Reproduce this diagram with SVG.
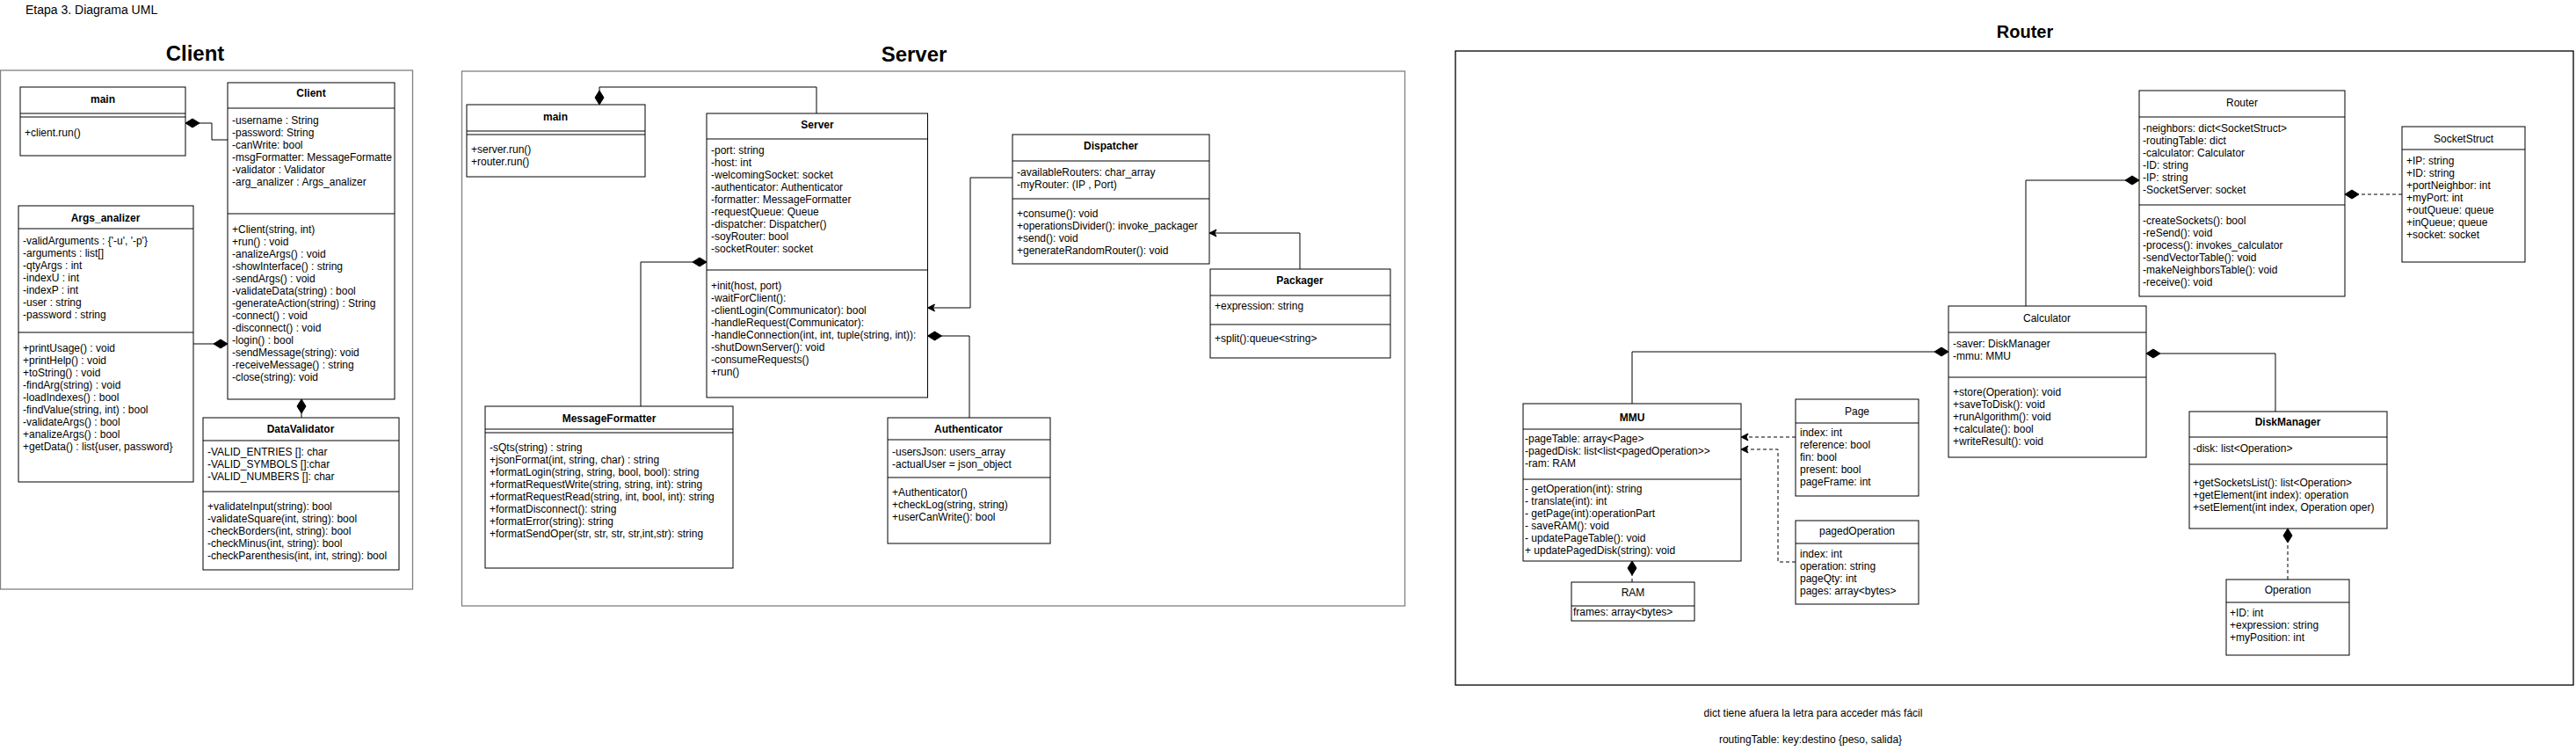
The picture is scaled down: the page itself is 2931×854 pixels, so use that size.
<svg xmlns="http://www.w3.org/2000/svg" width="2931" height="854" viewBox="0 0 2931 854">
<style>
text{font-family:"Liberation Sans",Arial,Helvetica,sans-serif;font-size:12px;fill:#000}
.h{font-weight:bold;text-anchor:middle}
.r{text-anchor:middle}
.big{font-size:24px;font-weight:bold;text-anchor:middle}
.box{fill:#fff;stroke:#000;stroke-width:1}
.ln{stroke:#000;stroke-width:1;fill:none}
.panel{fill:none;stroke:#808080;stroke-width:1.3}
.panelk{fill:none;stroke:#000;stroke-width:1.3}
.c{fill:none;stroke:#000;stroke-width:1}
.d{stroke-dasharray:4 3}
</style>
<defs>
<marker id="dia" markerUnits="userSpaceOnUse" markerWidth="17" markerHeight="11" refX="16" refY="5" orient="auto" overflow="visible">
<path d="M0,5 L8,0 L16,5 L8,10 Z" fill="#000" stroke="#000" stroke-width="1" stroke-dasharray="none"/>
</marker>
<marker id="arr" markerUnits="userSpaceOnUse" markerWidth="9" markerHeight="9" refX="8" refY="4" orient="auto" overflow="visible">
<path d="M0,0 L8,4 L0,8 L2,4 Z" fill="#000" stroke="#000" stroke-width="1" stroke-dasharray="none"/>
</marker>
</defs>
<rect width="2931" height="854" fill="#fff"/>
<text x="29" y="16" style="font-size:14px">Etapa 3. Diagrama UML</text>

<!-- CLIENT PANEL -->
<g id="client-panel">
<text class="big" x="222" y="69">Client</text>
<rect class="panel" x="0.5" y="80" width="469" height="590"/>
</g>
<g id="client-main">
<rect class="box" x="23" y="99" width="188" height="78"/>
<line class="ln" x1="23" y1="129" x2="211" y2="129"/>
<line class="ln" x1="23" y1="133" x2="211" y2="133"/>
<text class="h" x="117" y="117">main</text>
<text x="28" y="155">+client.run()</text>
</g>
<g id="client-class">
<rect class="box" x="259" y="94" width="190" height="360"/>
<line class="ln" x1="259" y1="123" x2="449" y2="123"/>
<line class="ln" x1="259" y1="243" x2="449" y2="243"/>
<text class="h" x="354" y="110">Client</text>
<text x="264" y="141">-username : String</text>
<text x="264" y="155">-password: String</text>
<text x="264" y="169">-canWrite: bool</text>
<text x="264" y="183">-msgFormatter: MessageFormatte</text>
<text x="264" y="197">-validator : Validator</text>
<text x="264" y="211">-arg_analizer : Args_analizer</text>
<text x="264" y="265">+Client(string, int)</text>
<text x="264" y="279">+run() : void</text>
<text x="264" y="293">-analizeArgs() : void</text>
<text x="264" y="307">-showInterface() : string</text>
<text x="264" y="321">-sendArgs() : void</text>
<text x="264" y="335">-validateData(string) : bool</text>
<text x="264" y="349">-generateAction(string) : String</text>
<text x="264" y="363">-connect() : void</text>
<text x="264" y="377">-disconnect() : void</text>
<text x="264" y="391">-login() : bool</text>
<text x="264" y="405">-sendMessage(string): void</text>
<text x="264" y="419">-receiveMessage() : string</text>
<text x="264" y="433">-close(string): void</text>
</g>
<g id="args-analizer">
<rect class="box" x="21" y="234" width="199" height="314"/>
<line class="ln" x1="21" y1="260" x2="220" y2="260"/>
<line class="ln" x1="21" y1="378" x2="220" y2="378"/>
<text class="h" x="120" y="252">Args_analizer</text>
<text x="26" y="278">-validArguments : {'-u', '-p'}</text>
<text x="26" y="292">-arguments : list[]</text>
<text x="26" y="306">-qtyArgs : int</text>
<text x="26" y="320">-indexU : int</text>
<text x="26" y="334">-indexP : int</text>
<text x="26" y="348">-user : string</text>
<text x="26" y="362">-password : string</text>
<text x="26" y="400">+printUsage() : void</text>
<text x="26" y="414">+printHelp() : void</text>
<text x="26" y="428">+toString() : void</text>
<text x="26" y="442">-findArg(string) : void</text>
<text x="26" y="456">-loadIndexes() : bool</text>
<text x="26" y="470">-findValue(string,  int) : bool</text>
<text x="26" y="484">-validateArgs() : bool</text>
<text x="26" y="498">+analizeArgs() : bool</text>
<text x="26" y="512">+getData() : list{user, password}</text>
</g>
<g id="data-validator">
<rect class="box" x="231" y="475" width="223" height="173"/>
<line class="ln" x1="231" y1="501" x2="454" y2="501"/>
<line class="ln" x1="231" y1="559" x2="454" y2="559"/>
<text class="h" x="342" y="492">DataValidator</text>
<text x="236" y="518">-VALID_ENTRIES []: char</text>
<text x="236" y="532">-VALID_SYMBOLS []:char</text>
<text x="236" y="546">-VALID_NUMBERS []: char</text>
<text x="236" y="580">+validateInput(string): bool</text>
<text x="236" y="594">-validateSquare(int, string): bool</text>
<text x="236" y="608">-checkBorders(int, string): bool</text>
<text x="236" y="622">-checkMinus(int, string): bool</text>
<text x="236" y="636">-checkParenthesis(int, int, string): bool</text>
</g>

<!-- SERVER PANEL -->
<g id="server-panel">
<text class="big" x="1040" y="70">Server</text>
<rect class="panel" x="525.5" y="81" width="1073" height="608"/>
</g>
<g id="server-main">
<rect class="box" x="531" y="119" width="203" height="82"/>
<line class="ln" x1="531" y1="149" x2="734" y2="149"/>
<line class="ln" x1="531" y1="153" x2="734" y2="153"/>
<text class="h" x="632" y="137">main</text>
<text x="536" y="174">+server.run()</text>
<text x="536" y="188">+router.run()</text>
</g>
<g id="server-class">
<rect class="box" x="804" y="129" width="251.5" height="323"/>
<line class="ln" x1="804" y1="158" x2="1055.5" y2="158"/>
<line class="ln" x1="804" y1="307" x2="1055.5" y2="307"/>
<text class="h" x="930" y="146">Server</text>
<text x="809" y="175">-port: string</text>
<text x="809" y="189">-host: int</text>
<text x="809" y="203">-welcomingSocket: socket</text>
<text x="809" y="217">-authenticator: Authenticator</text>
<text x="809" y="231">-formatter: MessageFormatter</text>
<text x="809" y="245">-requestQueue: Queue</text>
<text x="809" y="259">-dispatcher: Dispatcher()</text>
<text x="809" y="273">-soyRouter: bool</text>
<text x="809" y="287">-socketRouter: socket</text>
<text x="809" y="329">+init(host, port)</text>
<text x="809" y="343">-waitForClient():</text>
<text x="809" y="357">-clientLogin(Communicator): bool</text>
<text x="809" y="371">-handleRequest(Communicator):</text>
<text x="809" y="385">-handleConnection(int, int, tuple(string, int)):</text>
<text x="809" y="399">-shutDownServer(): void</text>
<text x="809" y="413">-consumeRequests()</text>
<text x="809" y="427">+run()</text>
</g>
<g id="dispatcher">
<rect class="box" x="1152" y="153" width="224" height="147"/>
<line class="ln" x1="1152" y1="183" x2="1376" y2="183"/>
<line class="ln" x1="1152" y1="226" x2="1376" y2="226"/>
<text class="h" x="1264" y="170">Dispatcher</text>
<text x="1157" y="200">-availableRouters: char_array</text>
<text x="1157" y="214">-myRouter: (IP , Port)</text>
<text x="1157" y="247">+consume(): void</text>
<text x="1157" y="261">+operationsDivider(): invoke_packager</text>
<text x="1157" y="275">+send(): void</text>
<text x="1157" y="289">+generateRandomRouter(): void</text>
</g>
<g id="packager">
<rect class="box" x="1377" y="306" width="205" height="101"/>
<line class="ln" x1="1377" y1="336" x2="1582" y2="336"/>
<line class="ln" x1="1377" y1="369" x2="1582" y2="369"/>
<text class="h" x="1479" y="323">Packager</text>
<text x="1382" y="352">+expression: string</text>
<text x="1382" y="389">+split():queue&lt;string&gt;</text>
</g>
<g id="message-formatter">
<rect class="box" x="552" y="462" width="282" height="184"/>
<line class="ln" x1="552" y1="488" x2="834" y2="488"/>
<line class="ln" x1="552" y1="492" x2="834" y2="492"/>
<text class="h" x="693" y="480">MessageFormatter</text>
<text x="557" y="513">-sQts(string) : string</text>
<text x="557" y="527">+jsonFormat(int, string, char) : string</text>
<text x="557" y="541">+formatLogin(string, string, bool, bool): string</text>
<text x="557" y="555">+formatRequestWrite(string, string, int): string</text>
<text x="557" y="569">+formatRequestRead(string, int, bool, int): string</text>
<text x="557" y="583">+formatDisconnect(): string</text>
<text x="557" y="597">+formatError(string): string</text>
<text x="557" y="611">+formatSendOper(str, str, str, str,int,str): string</text>
</g>
<g id="authenticator">
<rect class="box" x="1010" y="475" width="185" height="143"/>
<line class="ln" x1="1010" y1="500" x2="1195" y2="500"/>
<line class="ln" x1="1010" y1="543" x2="1195" y2="543"/>
<text class="h" x="1102" y="492">Authenticator</text>
<text x="1015" y="518">-usersJson: users_array</text>
<text x="1015" y="532">-actualUser = json_object</text>
<text x="1015" y="564">+Authenticator()</text>
<text x="1015" y="578">+checkLog(string, string)</text>
<text x="1015" y="592">+userCanWrite(): bool</text>
</g>

<!-- ROUTER PANEL -->
<g id="router-panel">
<text class="r" x="2304" y="43" style="font-size:20px;font-weight:bold">Router</text>
<rect class="panelk" x="1656" y="58" width="1272" height="721"/>
</g>
<g id="router-class">
<rect class="box" x="2434" y="103" width="234" height="234"/>
<line class="ln" x1="2434" y1="133" x2="2668" y2="133"/>
<line class="ln" x1="2434" y1="233" x2="2668" y2="233"/>
<text class="r" x="2551" y="121">Router</text>
<text x="2438" y="150">-neighbors: dict&lt;SocketStruct&gt;</text>
<text x="2438" y="164">-routingTable: dict</text>
<text x="2438" y="178">-calculator: Calculator</text>
<text x="2438" y="192">-ID: string</text>
<text x="2438" y="206">-IP: string</text>
<text x="2438" y="220">-SocketServer: socket</text>
<text x="2438" y="255">-createSockets(): bool</text>
<text x="2438" y="269">-reSend(): void</text>
<text x="2438" y="283">-process(): invokes_calculator</text>
<text x="2438" y="297">-sendVectorTable(): void</text>
<text x="2438" y="311">-makeNeighborsTable(): void</text>
<text x="2438" y="325">-receive(): void</text>
</g>
<g id="socket-struct">
<rect class="box" x="2733" y="144" width="140" height="154"/>
<line class="ln" x1="2733" y1="170" x2="2873" y2="170"/>
<text class="r" x="2803" y="162">SocketStruct</text>
<text x="2738" y="187">+IP: string</text>
<text x="2738" y="201">+ID: string</text>
<text x="2738" y="215">+portNeighbor: int</text>
<text x="2738" y="229">+myPort: int</text>
<text x="2738" y="243">+outQueue: queue</text>
<text x="2738" y="257">+inQueue; queue</text>
<text x="2738" y="271">+socket: socket</text>
</g>
<g id="calculator">
<rect class="box" x="2217" y="348" width="225" height="172"/>
<line class="ln" x1="2217" y1="378" x2="2442" y2="378"/>
<line class="ln" x1="2217" y1="429" x2="2442" y2="429"/>
<text class="r" x="2329" y="366">Calculator</text>
<text x="2222" y="395">-saver: DiskManager</text>
<text x="2222" y="409">-mmu: MMU</text>
<text x="2222" y="450">+store(Operation): void</text>
<text x="2222" y="464">+saveToDisk(): void</text>
<text x="2222" y="478">+runAlgorithm(): void</text>
<text x="2222" y="492">+calculate(): bool</text>
<text x="2222" y="506">+writeResult(): void</text>
</g>
<g id="disk-manager">
<rect class="box" x="2491" y="468" width="225" height="133"/>
<line class="ln" x1="2491" y1="497" x2="2716" y2="497"/>
<line class="ln" x1="2491" y1="528" x2="2716" y2="528"/>
<text class="h" x="2603" y="484">DiskManager</text>
<text x="2495" y="514">-disk: list&lt;Operation&gt;</text>
<text x="2495" y="553">+getSocketsList(): list&lt;Operation&gt;</text>
<text x="2495" y="567">+getElement(int index): operation</text>
<text x="2495" y="581">+setElement(int index, Operation oper)</text>
</g>
<g id="operation">
<rect class="box" x="2533" y="659" width="140" height="86"/>
<line class="ln" x1="2533" y1="685" x2="2673" y2="685"/>
<text class="r" x="2603" y="675">Operation</text>
<text x="2537" y="701">+ID: int</text>
<text x="2537" y="715">+expression: string</text>
<text x="2537" y="729">+myPosition: int</text>
</g>
<g id="mmu">
<rect class="box" x="1733" y="459" width="248" height="179"/>
<line class="ln" x1="1733" y1="488" x2="1981" y2="488"/>
<line class="ln" x1="1733" y1="545" x2="1981" y2="545"/>
<text class="h" x="1857" y="479">MMU</text>
<text x="1735" y="503">-pageTable: array&lt;Page&gt;</text>
<text x="1735" y="517">-pagedDisk: list&lt;list&lt;pagedOperation&gt;&gt;</text>
<text x="1735" y="531">-ram: RAM</text>
<text x="1735" y="560">- getOperation(int): string</text>
<text x="1735" y="574">- translate(int): int</text>
<text x="1735" y="588">- getPage(int):operationPart</text>
<text x="1735" y="602">- saveRAM(): void</text>
<text x="1735" y="616">- updatePageTable(): void</text>
<text x="1735" y="630">+ updatePagedDisk(string): void</text>
</g>
<g id="page">
<rect class="box" x="2043" y="454" width="140" height="110"/>
<line class="ln" x1="2043" y1="481" x2="2183" y2="481"/>
<text class="r" x="2113" y="472">Page</text>
<text x="2048" y="496">index: int</text>
<text x="2048" y="510">reference: bool</text>
<text x="2048" y="524">fin: bool</text>
<text x="2048" y="538">present: bool</text>
<text x="2048" y="552">pageFrame: int</text>
</g>
<g id="paged-operation">
<rect class="box" x="2043" y="592" width="140" height="95"/>
<line class="ln" x1="2043" y1="618" x2="2183" y2="618"/>
<text class="r" x="2113" y="608">pagedOperation</text>
<text x="2048" y="634">index: int</text>
<text x="2048" y="648">operation: string</text>
<text x="2048" y="662">pageQty: int</text>
<text x="2048" y="676">pages: array&lt;bytes&gt;</text>
</g>
<g id="ram">
<rect class="box" x="1788" y="662" width="140" height="44"/>
<line class="ln" x1="1788" y1="689" x2="1928" y2="689"/>
<text class="r" x="1858" y="678">RAM</text>
<text x="1790" y="700">frames: array&lt;bytes&gt;</text>
</g>

<g id="notes">
<text class="r" x="2063" y="815">dict tiene afuera la letra para acceder más fácil</text>
<text class="r" x="2060" y="845">routingTable: key:destino {peso, salida}</text>
</g>

<g id="connectors">
<path class="c" d="M259,159 H241 V140 H211" marker-end="url(#dia)"/>
<path class="c" d="M220,391 H259" marker-end="url(#dia)"/>
<path class="c" d="M343,475 V454" marker-end="url(#dia)"/>
<path class="c" d="M929,129 V99 H682 V119" marker-end="url(#dia)"/>
<path class="c" d="M729,462 V298 H804" marker-end="url(#dia)"/>
<path class="c" d="M1103,475 V382 H1055.5" marker-end="url(#dia)"/>
<path class="c" d="M1152,202 H1104 V350 H1055.5" marker-end="url(#arr)"/>
<path class="c" d="M1479,306 V265 H1376" marker-end="url(#arr)"/>
<path class="c d" d="M2733,221 H2668" marker-end="url(#dia)"/>
<path class="c" d="M2305,348 V205 H2434" marker-end="url(#dia)"/>
<path class="c" d="M2589,468 V402 H2442" marker-end="url(#dia)"/>
<path class="c d" d="M2603,659 V601" marker-end="url(#dia)"/>
<path class="c" d="M1857,459 V400 H2217" marker-end="url(#dia)"/>
<path class="c d" d="M1857,662 V638" marker-end="url(#dia)"/>
<path class="c d" d="M2043,497 H1981" marker-end="url(#arr)"/>
<path class="c d" d="M2043,639 H2023 V511 H1981" marker-end="url(#arr)"/>
</g>
</svg>
